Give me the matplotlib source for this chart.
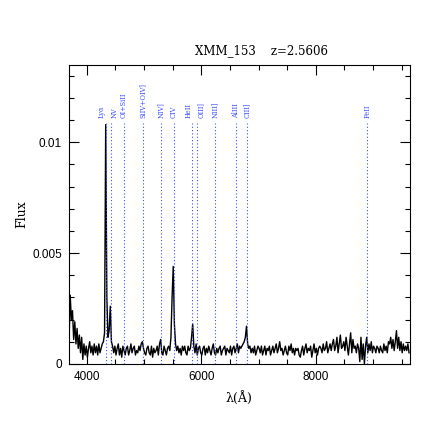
import numpy as np
import matplotlib.pyplot as plt
from matplotlib.ticker import MultipleLocator, FixedFormatter, FixedLocator

# source name and redshift
source = 'XMM_153'
z = 2.5606

# spectrum: wavelength grid (A) and flux in units of 1e-4
wave_start = 3690
wave_step = 20
flux_e4 = [
    10, 31, 20, 24, 11, 19, 9, 16, 7, 13,
    5, 12, 2, 9, 4, 8, 3, 7, 10, 5,
    8, 4, 9, 5, 8, 4, 9, 5, 7, 9,
    10, 14, 108, 30, 12, 15, 26, 10, 8, 5,
    8, 4, 7, 9, 4, 7, 3, 8, 6, 4,
    7, 8, 4, 6, 9, 5, 7, 8, 4, 6,
    5, 8, 6, 9, 10, 7, 5, 4, 7, 8,
    5, 4, 8, 3, 7, 5, 6, 8, 4, 9,
    11, 5, 4, 8, 6, 4, 7, 8, 6, 12,
    30, 44, 18, 9, 6, 8, 5, 7, 4, 8,
    6, 8, 5, 4, 8, 6, 7, 12, 18, 8,
    5, 9, 4, 7, 8, 5, 4, 7, 8, 4,
    7, 5, 8, 6, 4, 7, 9, 5, 4, 7,
    5, 7, 8, 4, 6, 7, 8, 4, 7, 6,
    5, 8, 4, 7, 8, 5, 7, 9, 5, 8,
    7, 8, 9, 10, 12, 17, 9, 7, 8, 5,
    7, 5, 8, 4, 6, 8, 7, 5, 8, 4,
    6, 8, 4, 7, 6, 8, 4, 6, 8, 5,
    7, 9, 5, 7, 10, 6, 7, 4, 6, 8,
    5, 4, 8, 6, 9, 5, 7, 4, 7, 6,
    7, 4, 3, 6, 8, 4, 7, 9, 5, 7,
    6, 8, 3, 6, 9, 5, 7, 4, 7, 8,
    7, 5, 9, 6, 7, 10, 5, 7, 9, 6,
    9, 11, 6, 8, 12, 5, 9, 13, 7, 8,
    10, 6, 12, 8, 4, 9, 14, 5, 11, 7,
    8, 5, 9, 7, 1, 12, 2, 9, 0, 8,
    12, 5, 9, 6, 10, 5, 8, 7, 5, 8,
    7, 5, 8, 6, 5, 9, 6, 8, 5, 10,
    9, 12, 7, 11, 6, 10, 15, 7, 12, 6,
    10, 5, 9, 6, 8, 6, 9, 5,
]

# emission lines (rest wavelengths, A)
line_names = ['Ly\u03b1', 'NV', 'OI+SiII', 'SiIV+OIV]', 'NIV]', 'CIV',
              'HeII', 'OIII]', 'NIII]', 'AlIII', 'CIII]', 'FeII']
line_rest = [1215.67, 1240.14, 1305.0, 1400.0, 1486.5, 1549.06,
             1640.42, 1663.5, 1750.0, 1857.4, 1908.73, 2500.0]
# close pairs: push the labels apart a little
label_ha = ['right', 'left', 'center', 'center', 'center', 'center',
            'right', 'left', 'center', 'center', 'center', 'center']

wave = wave_start + wave_step * np.arange(len(flux_e4))
flux = np.array(flux_e4) * 1e-4
line_obs = np.array(line_rest) * (1 + z)

fig = plt.figure(figsize=(4.47, 4.47), dpi=100)
ax = fig.add_axes([0.154, 0.186, 0.763, 0.669])

ax.plot(wave, flux, color='black', lw=1.0)

blue = '#3a4dff'
for name, w, ha in zip(line_names, line_obs, label_ha):
    ax.plot([w, w], [0, 0.01088], color=blue, lw=0.8, linestyle=(0, (1, 2)))
    ax.text(w, 0.01111, name, rotation=90, ha=ha, va='bottom',
            color=blue, fontsize=4.8, family='DejaVu Serif')

ax.set_xlim(3686, 9645)
ax.set_ylim(0, 0.0135)

ax.xaxis.set_major_locator(MultipleLocator(2000))
ax.xaxis.set_minor_locator(MultipleLocator(500))
ax.yaxis.set_major_locator(FixedLocator([0, 0.005, 0.01]))
ax.yaxis.set_major_formatter(FixedFormatter(['0', '0.005', '0.01']))
ax.yaxis.set_minor_locator(MultipleLocator(0.001))
ax.tick_params(which='both', direction='in', top=True, right=True, width=0.8)
ax.tick_params(which='major', length=7, labelsize=8.5, pad=5)
ax.tick_params(which='minor', length=3.5)
for lab in ax.get_xticklabels() + ax.get_yticklabels():
    lab.set_family('Liberation Sans')
for s in ax.spines.values():
    s.set_linewidth(0.8)

ax.set_ylabel('Flux', family='DejaVu Serif', fontsize=9, labelpad=3)
ax.set_xlabel('\u03bb(\u00c5)', family='DejaVu Serif', fontsize=9, labelpad=6)
ax.text(0.566, 1.025, source + '    z=' + str(z), transform=ax.transAxes,
        ha='center', va='bottom', fontsize=8.5, family='DejaVu Serif')

plt.savefig('out.png', dpi=100)
